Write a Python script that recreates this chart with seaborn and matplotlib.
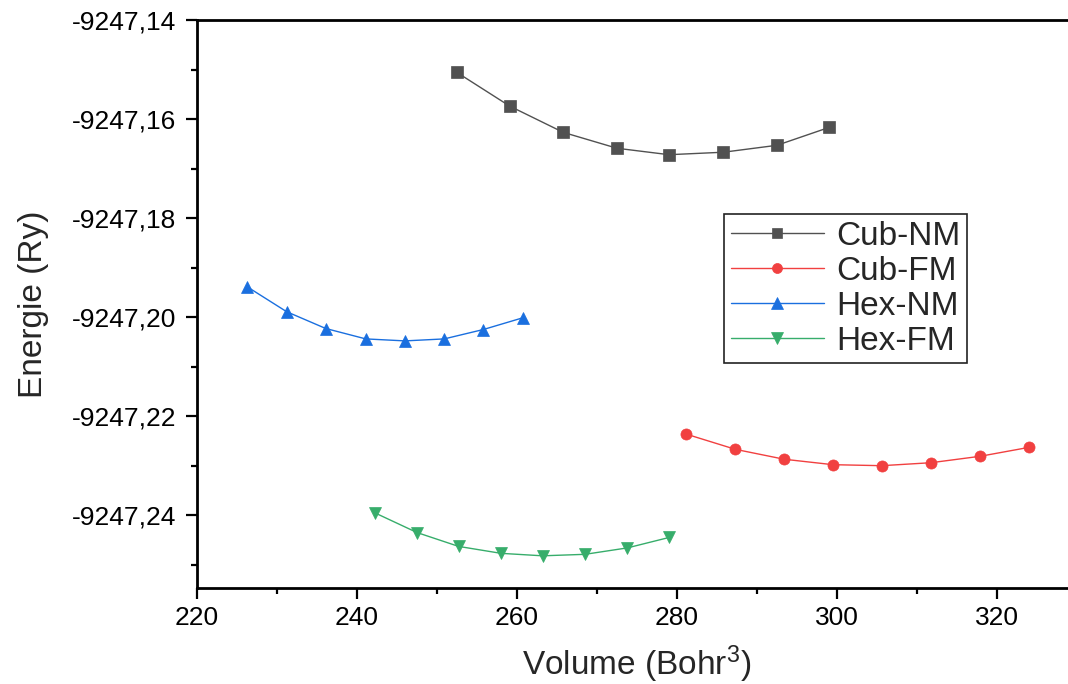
import matplotlib
matplotlib.use("Agg")
import matplotlib.pyplot as plt
import seaborn as sns
from matplotlib.ticker import MultipleLocator, FuncFormatter

# values
cub_nm_vol = [252.5, 259.1, 265.8, 272.5, 279.0, 285.8, 292.5, 299.0]
cub_nm_en = [-9247.1506, -9247.1574, -9247.1627, -9247.1659, -9247.1672, -9247.1667, -9247.1653, -9247.1617]

cub_fm_vol = [281.1, 287.3, 293.4, 299.5, 305.6, 311.75, 317.9, 324.0]
cub_fm_en = [-9247.2236, -9247.2267, -9247.2287, -9247.2298, -9247.2300, -9247.2294, -9247.2281, -9247.2263]

hex_nm_vol = [226.3, 231.2, 236.1, 241.1, 246.0, 250.9, 255.8, 260.8]
hex_nm_en = [-9247.1939, -9247.1989, -9247.2023, -9247.2044, -9247.2048, -9247.2044, -9247.2025, -9247.2001]

hex_fm_vol = [242.2, 247.5, 252.7, 258.0, 263.2, 268.5, 273.8, 279.0]
hex_fm_en = [-9247.2395, -9247.2435, -9247.2463, -9247.2477, -9247.2482, -9247.2479, -9247.2466, -9247.2445]

sns.set_style("ticks")
plt.rcParams["font.family"] = ["Liberation Sans", "DejaVu Sans"]
plt.rcParams["mathtext.fontset"] = "custom"
plt.rcParams["mathtext.rm"] = "Liberation Sans"
plt.rcParams["mathtext.it"] = "Liberation Sans"

fig = plt.figure(figsize=(10.68, 6.84), dpi=100)
ax = fig.add_axes([197 / 1068, 1 - 588 / 684, 880 / 1068, 568 / 684])

styles = [
    ("Cub-NM", cub_nm_vol, cub_nm_en, "#515151", "s", 8),
    ("Cub-FM", cub_fm_vol, cub_fm_en, "#F14040", "o", 8),
    ("Hex-NM", hex_nm_vol, hex_nm_en, "#1A6FDF", "^", 9),
    ("Hex-FM", hex_fm_vol, hex_fm_en, "#37AD6B", "v", 9),
]
for name, vol, en, col, mk, ms in styles:
    sns.lineplot(x=vol, y=en, ax=ax, label=name, color=col, marker=mk,
                 markersize=ms, markeredgecolor=col, markeredgewidth=0.5,
                 linewidth=1)

ax.set_xlim(220, 330)
ax.set_ylim(-9247.2547, -9247.14)
ax.xaxis.set_major_locator(MultipleLocator(20))
ax.xaxis.set_minor_locator(MultipleLocator(10))
ax.yaxis.set_major_locator(MultipleLocator(0.02))
ax.yaxis.set_minor_locator(MultipleLocator(0.01))
ax.yaxis.set_major_formatter(FuncFormatter(lambda v, p: f"{v:.2f}".replace(".", ",")))

ax.tick_params(which="major", direction="out", length=8, width=1.6,
               labelsize=19, color="black", labelcolor="black")
ax.tick_params(which="minor", direction="out", length=4, width=1.6, color="black")
ax.tick_params(axis="y", pad=7)
ax.tick_params(axis="x", pad=5)

for s in ["left", "bottom", "top"]:
    ax.spines[s].set_linewidth(2)
    ax.spines[s].set_color("black")
ax.spines["right"].set_visible(False)

ax.set_xlabel("Volume (Bohr$^{3}$)", fontsize=24, labelpad=10)
ax.set_ylabel("Energie (Ry)", fontsize=24, labelpad=16)

leg = ax.legend(loc="upper left", bbox_to_anchor=(0.599, 0.6585), borderaxespad=0,
                frameon=True, fancybox=False, edgecolor="#222222", framealpha=1,
                handlelength=2.8, handletextpad=0.35, labelspacing=0.12,
                borderpad=0.2, fontsize=24, markerscale=0.9)
leg.get_frame().set_linewidth(1.2)

plt.savefig("out.png", dpi=100)
plt.close()
